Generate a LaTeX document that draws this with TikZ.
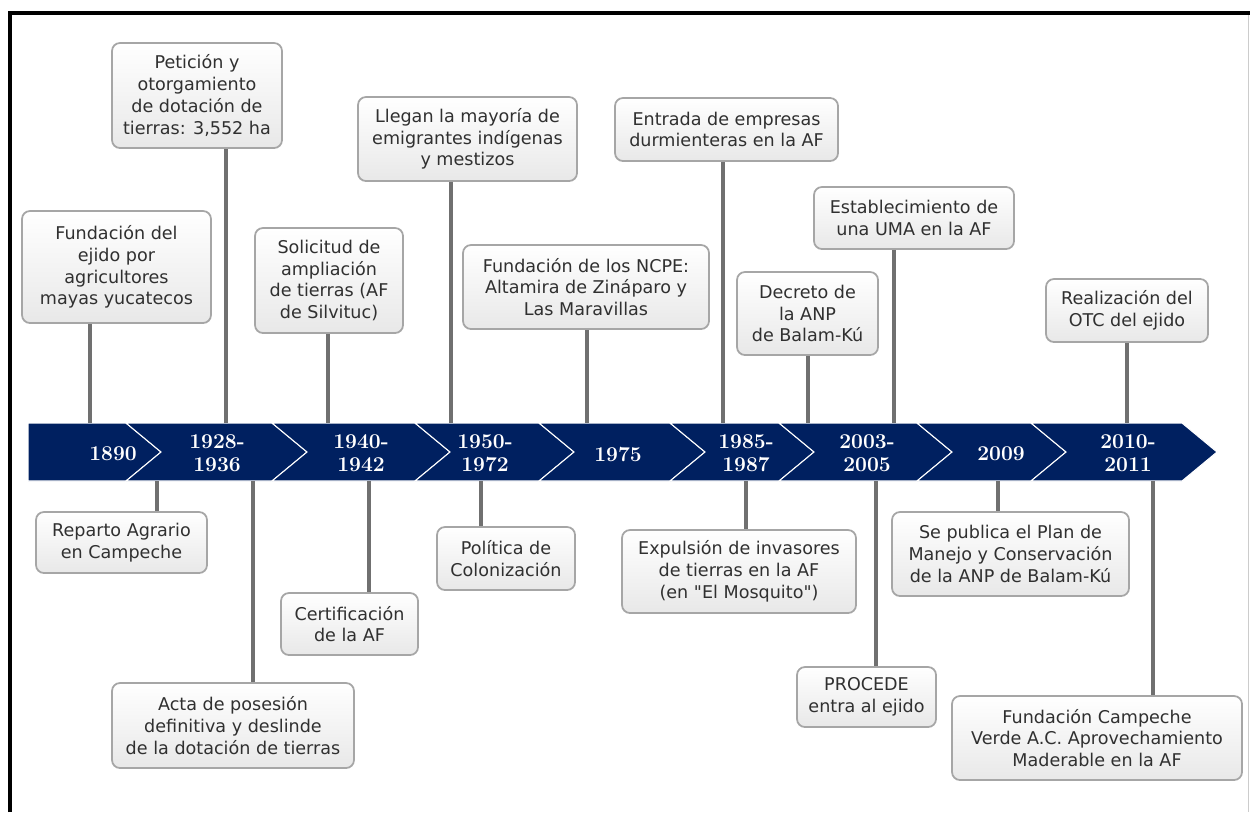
\documentclass[tikz,border=0pt]{standalone}
\usepackage{fontspec}
\newfontfamily\boxfont{DejaVu Sans}
\usetikzlibrary{positioning}

\definecolor{bandblue}{HTML}{002060}
\definecolor{linegray}{HTML}{707070}
\definecolor{txtgray}{HTML}{303030}

\tikzset{
  event/.style={draw=gray!70, line width=1pt, rounded corners=4.5pt,
    top color=white, bottom color=gray!18, text=txtgray, align=center,
    inner sep=0pt, font=\boxfont\fontsize{10}{12.4}\selectfont},
  stem/.style={linegray, line width=2pt},
  year/.style={text=white, align=center, font=\fontsize{12}{13}\selectfont\bfseries},
  chevron/.style={fill=bandblue, draw=white, line width=0.6pt},
}

\begin{document}
\begin{tikzpicture}[x=0.02cm, y=-0.02cm]
    \useasboundingbox (0,0) rectangle (1250,812);
    % frame
    \draw[gray!40, line width=0.5pt] (1248,13) -- (1248,812);
    \draw[black, line width=2pt] (10,812) -- (10,13) -- (1250,13);

    % time band
    \fill[chevron] (28,423) -- (126,423) -- (161,452) -- (126,481) -- (28,481) -- cycle;
    \foreach \a/\b in {126/272, 272/415, 415/539, 539/670, 670/779, 779/917, 917/1031, 1031/1182}
        \fill[chevron] (\a,423) -- (\b,423) -- (\b+35,452) -- (\b,481) -- (\a,481) -- (\a+35,452) -- cycle;

    \node[year] (y1890) at (113,454) {1890};
    \node[year] (y1928) at (217,453) {1928-\\1936};
    \node[year] (y1940) at (361,453) {1940-\\1942};
    \node[year] (y1950) at (485,453) {1950-\\1972};
    \node[year] (y1975) at (618,454) {1975};
    \node[year] (y1985) at (746,453) {1985-\\1987};
    \node[year] (y2003) at (867,453) {2003-\\2005};
    \node[year] (y2009) at (1001,454) {2009};
    \node[year] (y2010) at (1128,453) {2010-\\2011};

    % events above the band
    \node[event, minimum width=3.78cm, minimum height=2.24cm] (fund) at (116.5,267) {Fundación del\\ejido por\\agricultores\\mayas yucatecos};
    \node[event, minimum width=3.40cm, minimum height=2.10cm] (pet) at (197,95.5) {Petición y\\otorgamiento\\de dotación de\\tierras: 3,552 ha};
    \node[event, minimum width=2.96cm, minimum height=2.10cm] (sol) at (329,280.5) {Solicitud de\\ampliación\\de tierras (AF\\de Silvituc)};
    \node[event, minimum width=4.38cm, minimum height=1.68cm] (lleg) at (467.5,139) {Llegan la mayoría de\\emigrantes indígenas\\y mestizos};
    \node[event, minimum width=4.92cm, minimum height=1.68cm] (ncpe) at (586,287) {Fundación de los NCPE:\\Altamira de Zináparo y\\Las Maravillas};
    \node[event, minimum width=4.46cm, minimum height=1.26cm] (entr) at (726.5,129.5) {Entrada de empresas\\durmienteras en la AF};
    \node[event, minimum width=2.82cm, minimum height=1.66cm] (decr) at (807.5,313.5) {Decreto de\\la ANP\\de Balam-Kú};
    \node[event, minimum width=4.00cm, minimum height=1.24cm] (esta) at (914,218) {Establecimiento de\\una UMA en la AF};
    \node[event, minimum width=3.24cm, minimum height=1.26cm] (real) at (1127,310.5) {Realización del\\OTC del ejido};

    % events below the band
    \node[event, minimum width=3.42cm, minimum height=1.22cm] (repa) at (121.5,542.5) {Reparto Agrario\\en Campeche};
    \node[event, minimum width=4.84cm, minimum height=1.70cm] (acta) at (233,725.5) {Acta de posesión\\definitiva y deslinde\\de la dotación de tierras};
    \node[event, minimum width=2.74cm, minimum height=1.24cm] (cert) at (349.5,624) {Certificación\\de la AF};
    \node[event, minimum width=2.76cm, minimum height=1.26cm] (poli) at (506,558.5) {Política de\\Colonización};
    \node[event, minimum width=4.68cm, minimum height=1.66cm] (expu) at (739,571.5) {Expulsión de invasores\\de tierras en la AF\\(en "El Mosquito")};
    \node[event, minimum width=2.78cm, minimum height=1.20cm] (proc) at (866.5,697) {PROCEDE\\entra al ejido};
    \node[event, minimum width=4.74cm, minimum height=1.68cm] (sepu) at (1010.5,554) {Se publica el Plan de\\Manejo y Conservación\\de la ANP de Balam-Kú};
    \node[event, minimum width=5.80cm, minimum height=1.68cm] (fcam) at (1097,738) {Fundación Campeche\\Verde A.C. Aprovechamiento\\Maderable en la AF};

    % stems
    \foreach \n/\x in {fund/90, pet/226, sol/328, lleg/451, ncpe/587, entr/723, decr/808, esta/894, real/1127} {
        \coordinate (\n-t) at (\x,423);
        \draw[stem] (\n.south -| \n-t) -- (\n-t);
    }
    \foreach \n/\x in {repa/157, acta/253, cert/369, poli/481, expu/746, proc/876, sepu/998, fcam/1153} {
        \coordinate (\n-b) at (\x,481);
        \draw[stem] (\n-b) -- (\n.north -| \n-b);
    }
\end{tikzpicture}
\end{document}
